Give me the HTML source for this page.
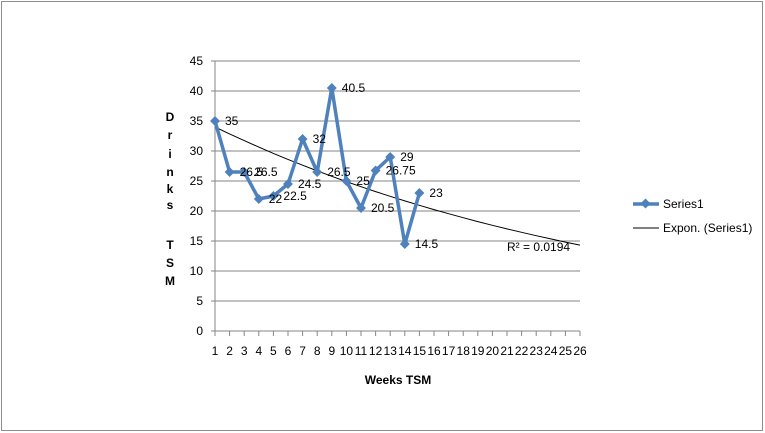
<!DOCTYPE html>
<html><head><meta charset="utf-8"><style>
body{margin:0;background:#fff}
svg{display:block;font-family:"Liberation Sans",Arial,sans-serif}
</style></head><body>
<svg width="765" height="433">
<rect x="1.5" y="1.5" width="761" height="429" fill="#fff" stroke="#8c8c8c"/>
<g id="grid"></g><g id="axes"></g><g id="trend"></g><g id="series"></g><g id="labels"></g>
<g font-size="12" font-weight="bold" fill="#000">
<text x="170" y="121" text-anchor="middle">D</text><text x="170" y="139" text-anchor="middle">r</text>
<text x="170" y="158" text-anchor="middle">i</text><text x="170" y="176" text-anchor="middle">n</text>
<text x="170" y="193" text-anchor="middle">k</text><text x="170" y="209" text-anchor="middle">s</text>
<text x="170" y="249" text-anchor="middle">T</text><text x="170" y="267" text-anchor="middle">S</text>
<text x="170" y="285" text-anchor="middle">M</text></g>
<text x="398" y="384" font-size="12" font-weight="bold" text-anchor="middle">Weeks TSM</text>
<text x="507" y="251" font-size="12">R² = 0.0194</text>
<g>
<g><line x1="633" y1="204" x2="659" y2="204" stroke="#4f81bd" stroke-width="3.5"/><rect x="642" y="200" width="7" height="7" fill="#4f81bd" transform="rotate(45 645.5 203.5)"/><text x="663" y="208" font-size="12">Series1</text></g>
<g><line x1="633" y1="228" x2="659" y2="228" stroke="#000" stroke-width="1"/><text x="663" y="232" font-size="12">Expon. (Series1)</text></g>
</g>
</svg>
<script>
const categories=[1,2,3,4,5,6,7,8,9,10,11,12,13,14,15,16,17,18,19,20,21,22,23,24,25,26];
const values=[35,26.5,26.5,22,22.5,24.5,32,26.5,40.5,25,20.5,26.75,29,14.5,23];
const valueLabels=["35","26.5","26.5","22","22.5","24.5","32","26.5","40.5","25","20.5","26.75","29","14.5","23"];
const yTicks=[0,5,10,15,20,25,30,35,40,45];
const trendA=[35.2];const trendB=[-0.0346];
const NS="http://www.w3.org/2000/svg";
const x=c=>215+(c-1)*(365/25);
const y=v=>331-v*6;
function mk(tag,attrs,parent){const e=document.createElementNS(NS,tag);for(const k in attrs)e.setAttribute(k,attrs[k]);document.getElementById(parent).appendChild(e);return e;}
yTicks.forEach(t=>{
 const g=mk('line',{x1:211,x2:580,y1:y(t),y2:y(t),stroke:t===0?'#868686':'#868686','stroke-width':1},'grid');
 
 
 const l=mk('text',{x:203,y:y(t)+4,'font-size':12,'text-anchor':'end'},'axes');l.textContent=t;
 
 
});
const ya=mk('line',{x1:215,x2:215,y1:y(45),y2:y(0),stroke:'#868686'},'axes');


categories.forEach(c=>{
 const tk=mk('line',{x1:x(c),x2:x(c),y1:331,y2:336,stroke:'#868686'},'axes');
 
 
 const l=mk('text',{x:x(c),y:355,'font-size':12,'text-anchor':'middle'},'axes');l.textContent=c;
 
 
});
let td='';categories.forEach((c,i)=>{td+=(i?'L':'M')+x(c).toFixed(1)+','+y(trendA[0]*Math.exp(trendB[0]*c)).toFixed(1);});
const tl=mk('path',{d:td,fill:'none',stroke:'#000','stroke-width':1},'trend');


let sd='';values.forEach((v,i)=>{sd+=(i?'L':'M')+x(categories[i])+','+y(v);});
const sl=mk('path',{d:sd,fill:'none',stroke:'#4f81bd','stroke-width':3.5,'stroke-linejoin':'round'},'series');


values.forEach((v,i)=>{
 const cx=x(categories[i]),cy=y(v);
 const p=mk('rect',{x:cx-3.5,y:cy-3.5,width:7,height:7,fill:'#4f81bd',transform:`rotate(45 ${cx} ${cy})`},'series');
 
 
 const l=mk('text',{x:cx+10,y:cy+4,'font-size':12},'labels');l.textContent=valueLabels[i];
 
 
});
</script>
</body></html>
